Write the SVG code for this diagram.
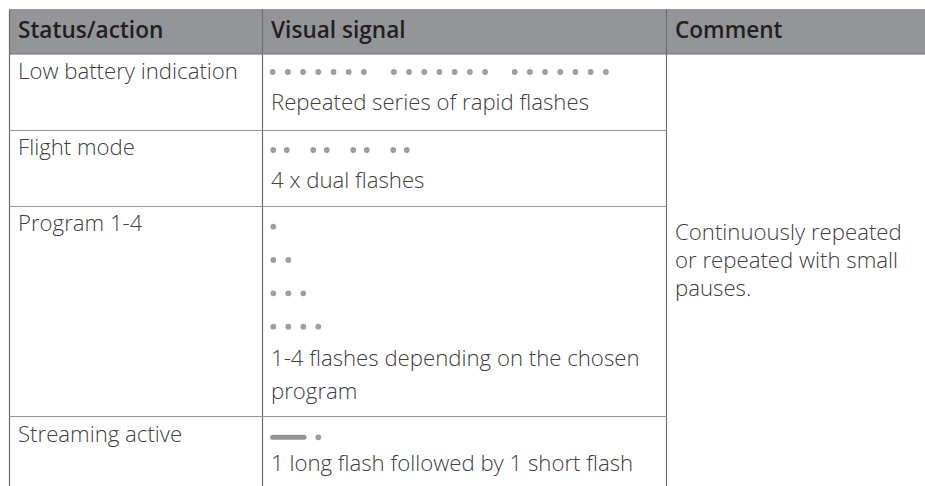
<svg xmlns="http://www.w3.org/2000/svg" width="925" height="486" viewBox="0 0 925 486">
<style>
.hdr{font-family:"Open Sans","Noto Sans","Liberation Sans",sans-serif;font-size:22.6px;font-weight:600;fill:#231f20}
.txt{font-family:"Open Sans","Noto Sans","Liberation Sans",sans-serif;font-size:22.2px;font-weight:300;fill:#414042}
.vl{stroke:#6d6e71;stroke-width:1.2;fill:none}
.hl{stroke:#939598;stroke-width:1.2;fill:none}
.dot{fill:#9c9ea1}
</style>
<g id="header">
<rect x="9.5" y="10" width="915.5" height="44" fill="#939598"/>
<line class="hl" x1="9.5" y1="9.5" x2="925" y2="9.5" stroke="#c7c8ca"/>
<line class="vl" x1="9.5" y1="54" x2="925" y2="54"/>
<text class="hdr" x="18" y="37.5">Status/action</text>
<text class="hdr" x="271" y="37.5">Visual signal</text>
<text class="hdr" x="675" y="37.5">Comment</text>
</g>
<g id="grid">
<line class="vl" x1="9.5" y1="9.5" x2="9.5" y2="486"/>
<line class="vl" x1="262.5" y1="9.5" x2="262.5" y2="486"/>
<line class="vl" x1="666.5" y1="9.5" x2="666.5" y2="486"/>
<line class="hl" x1="9.5" y1="130.5" x2="666.5" y2="130.5"/>
<line class="hl" x1="9.5" y1="206.5" x2="666.5" y2="206.5"/>
<line class="hl" x1="9.5" y1="416.5" x2="666.5" y2="416.5"/>
</g>
<g id="row-low-battery">
<text class="txt" x="18" y="78.5">Low battery indication</text>
<g class="dot">
<circle cx="272.7" cy="72" r="2.9"/><circle cx="287.9" cy="72" r="2.9"/><circle cx="303.1" cy="72" r="2.9"/><circle cx="318.3" cy="72" r="2.9"/><circle cx="333.5" cy="72" r="2.9"/><circle cx="348.7" cy="72" r="2.9"/><circle cx="363.9" cy="72" r="2.9"/>
<circle cx="393.9" cy="72" r="2.9"/><circle cx="409.1" cy="72" r="2.9"/><circle cx="424.3" cy="72" r="2.9"/><circle cx="439.5" cy="72" r="2.9"/><circle cx="454.7" cy="72" r="2.9"/><circle cx="469.9" cy="72" r="2.9"/><circle cx="485.1" cy="72" r="2.9"/>
<circle cx="514.7" cy="72" r="2.9"/><circle cx="529.9" cy="72" r="2.9"/><circle cx="545.1" cy="72" r="2.9"/><circle cx="560.3" cy="72" r="2.9"/><circle cx="575.5" cy="72" r="2.9"/><circle cx="590.7" cy="72" r="2.9"/><circle cx="605.9" cy="72" r="2.9"/>
</g>
<text class="txt" x="271" y="109.5">Repeated series of rapid flashes</text>
</g>
<g id="row-flight-mode">
<text class="txt" x="18" y="154.5">Flight mode</text>
<g class="dot">
<circle cx="273.3" cy="150" r="2.9"/><circle cx="286.7" cy="150" r="2.9"/>
<circle cx="313.3" cy="150" r="2.9"/><circle cx="326.7" cy="150" r="2.9"/>
<circle cx="353.3" cy="150" r="2.9"/><circle cx="366.7" cy="150" r="2.9"/>
<circle cx="393.3" cy="150" r="2.9"/><circle cx="406.7" cy="150" r="2.9"/>
</g>
<text class="txt" x="271" y="187.5">4 x dual flashes</text>
</g>
<g id="row-program">
<text class="txt" x="18" y="230.5">Program 1-4</text>
<g class="dot">
<circle cx="273.3" cy="226.7" r="2.9"/>
<circle cx="273.3" cy="260" r="2.9"/><circle cx="288.3" cy="260" r="2.9"/>
<circle cx="273.3" cy="293.3" r="2.9"/><circle cx="288.3" cy="293.3" r="2.9"/><circle cx="303.3" cy="293.3" r="2.9"/>
<circle cx="273.3" cy="326.7" r="2.9"/><circle cx="288.3" cy="326.7" r="2.9"/><circle cx="303.3" cy="326.7" r="2.9"/><circle cx="318.3" cy="326.7" r="2.9"/>
</g>
<text class="txt" x="271" y="365.5">1-4 flashes depending on the chosen</text>
<text class="txt" x="271" y="399">program</text>
</g>
<g id="row-streaming">
<text class="txt" x="18" y="441.5">Streaming active</text>
<rect x="270" y="434.8" width="36.5" height="5" rx="2.5" fill="#939598"/>
<circle class="dot" cx="318.3" cy="437.3" r="2.9"/>
<text class="txt" x="271" y="470.5">1 long flash followed by 1 short flash</text>
</g>
<g id="comment">
<text class="txt" x="675" y="240">Continuously repeated</text>
<text class="txt" x="675" y="268">or repeated with small</text>
<text class="txt" x="675" y="296">pauses.</text>
</g>
</svg>
